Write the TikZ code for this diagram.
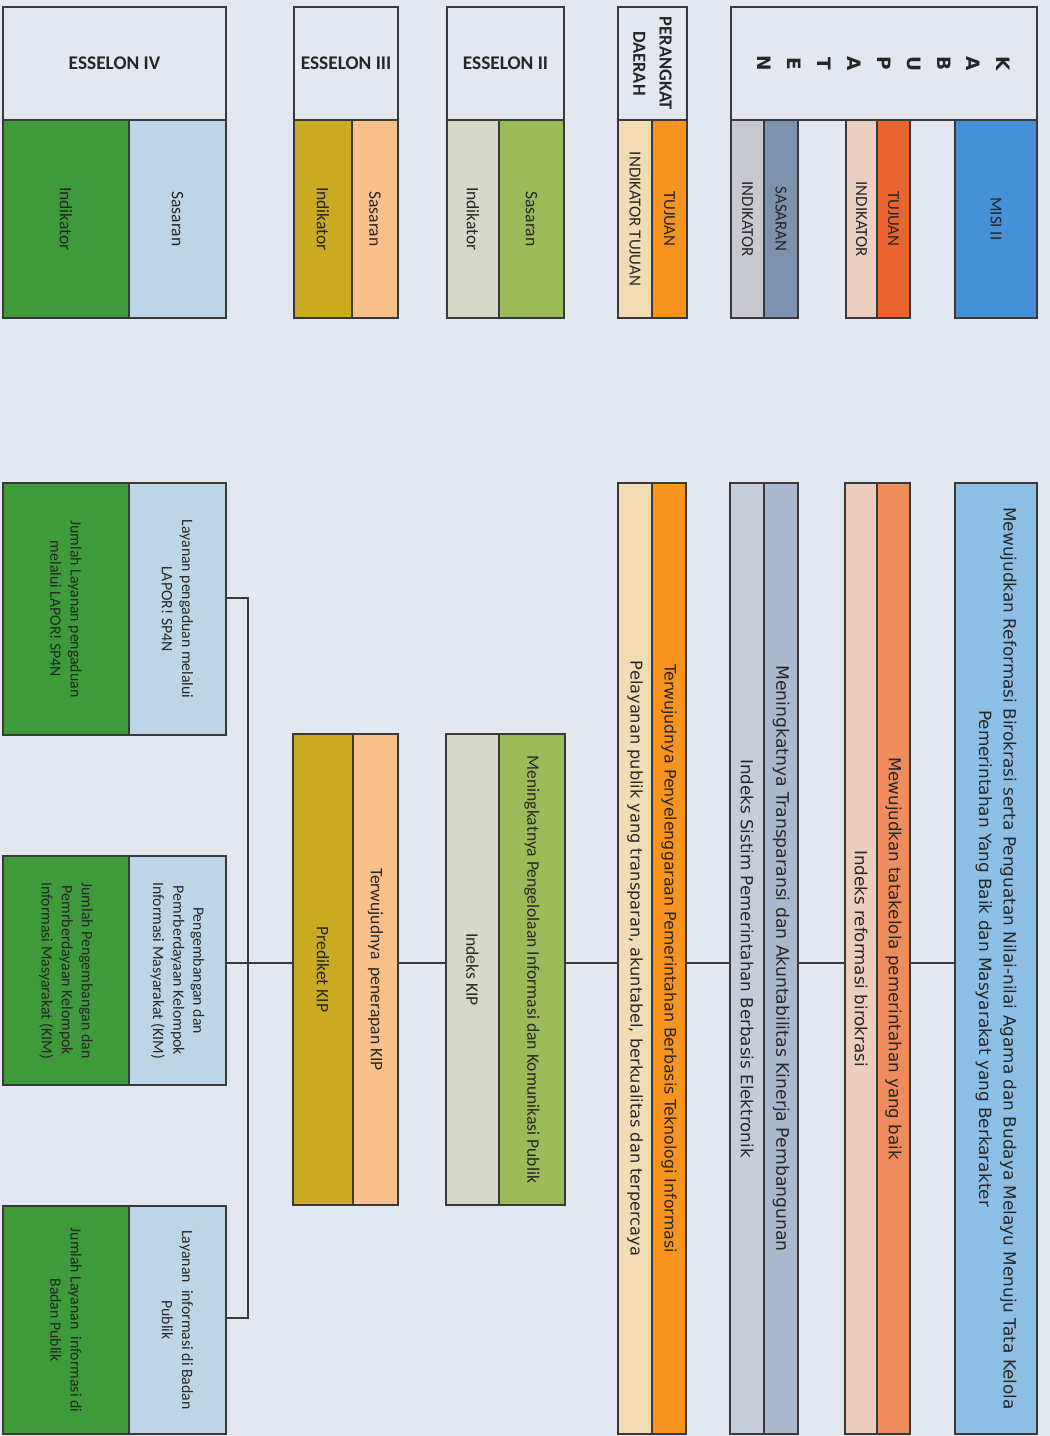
\documentclass[tikz,border=0pt]{standalone}
\usepackage{fontspec}
\setmainfont{Carlito}
\newfontfamily\kabfont{DejaVu Sans}
\usetikzlibrary{positioning}
\definecolor{paper}{HTML}{E3E8F0}
\definecolor{edge}{HTML}{3A3838}
\definecolor{ink}{HTML}{262626}
\definecolor{misihead}{HTML}{4590D6}
\definecolor{misibody}{HTML}{8DBFE5}
\definecolor{tujhead}{HTML}{E8652F}
\definecolor{tujbody}{HTML}{EE8C5E}
\definecolor{indhead}{HTML}{EBCFC0}
\definecolor{indbody}{HTML}{EDCDBC}
\definecolor{sashead}{HTML}{7D92AE}
\definecolor{sasbody}{HTML}{A9B9CF}
\definecolor{indshead}{HTML}{C8C8D0}
\definecolor{indsbody}{HTML}{C4CDD9}
\definecolor{pdtuj}{HTML}{F7931E}
\definecolor{pdind}{HTML}{F3DCB4}
\definecolor{esdua}{HTML}{9BBB5A}
\definecolor{esduaind}{HTML}{D6D8C8}
\definecolor{estiga}{HTML}{F8C08A}
\definecolor{estigaind}{HTML}{C9AA22}
\definecolor{esempat}{HTML}{BCD6E8}
\definecolor{esempatind}{HTML}{3F9A3C}
\tikzset{
        % Boxes
        cell/.style={draw=edge, line width=0.9pt, inner sep=0pt, outer sep=0pt, anchor=north west},
        dims/.style 2 args={minimum width=#1*0.02cm, minimum height=#2*0.02cm},
        % Rotated texts
        vtxt/.style={rotate=-90, align=center, inner sep=0pt, text=ink},
        head_lbl/.style={vtxt, font=\fontsize{9.6}{11}\selectfont},
        sub_lbl/.style={vtxt, font=\fontsize{10}{12}\selectfont},
        kab_txt/.style={vtxt, font=\kabfont\fontsize{9.5}{14}\selectfont},
        es_txt/.style={vtxt, font=\fontsize{9}{11.5}\selectfont},
        es_big/.style={vtxt, font=\fontsize{10}{12}\selectfont},
        es_head/.style={cell, text=ink, font=\bfseries\fontsize{11}{13}\selectfont},
        % Connectors
        wire/.style={draw=edge, line width=1pt}
}
\begin{document}
\begin{tikzpicture}[x=0.02cm, y=-0.02cm]
    \useasboundingbox (0,0) rectangle (1050,1436);
    \fill[paper] (0,0) rectangle (1050,1436);

    % Header row
    \node[cell, dims={306}{113}] (kab_head) at (731,7) {};
    \node[vtxt, font=\kabfont\bfseries\fontsize{10.5}{17}\selectfont] (kab_title) at (kab_head) {K\\A\\B\\U\\P\\A\\T\\E\\N};
    \node[cell, dims={33}{198}, fill=indshead] (kab_ind2_h) at (731,120) {};
    \node[cell, dims={34}{198}, fill=sashead, right=0pt of kab_ind2_h] (kab_sas_h) {};
    \node[cell, dims={31}{198}, fill=indhead] (kab_ind1_h) at (846,120) {};
    \node[cell, dims={33}{198}, fill=tujhead, right=0pt of kab_ind1_h] (kab_tuj_h) {};
    \node[cell, dims={82}{198}, fill=misihead] (misi_h) at (955,120) {};
    \node[head_lbl] (kab_ind2_l) at (kab_ind2_h) {INDIKATOR};
    \node[head_lbl] (kab_sas_l) at (kab_sas_h) {SASARAN};
    \node[head_lbl] (kab_ind1_l) at (kab_ind1_h) {INDIKATOR};
    \node[head_lbl] (kab_tuj_l) at (kab_tuj_h) {TUJUAN};
    \node[head_lbl] (misi_l) at (misi_h) {MISI II};

    \node[cell, dims={69}{113}] (pd_head) at (618,7) {};
    \node[vtxt, font=\bfseries\fontsize{10.5}{15}\selectfont] (pd_title) at (pd_head) {PERANGKAT\\DAERAH};
    \node[cell, dims={34}{198}, fill=pdind] (pd_ind_h) at (618,120) {};
    \node[cell, dims={35}{198}, fill=pdtuj, right=0pt of pd_ind_h] (pd_tuj_h) {};
    \node[head_lbl] (pd_ind_l) at (pd_ind_h) {INDIKATOR TUJUAN};
    \node[head_lbl] (pd_tuj_l) at (pd_tuj_h) {TUJUAN};

    \node[es_head, dims={117}{113}] (es2_head) at (447,7) {ESSELON II};
    \node[cell, dims={52}{198}, fill=esduaind] (es2_ind_h) at (447,120) {};
    \node[cell, dims={65}{198}, fill=esdua, right=0pt of es2_ind_h] (es2_sas_h) {};
    \node[sub_lbl] (es2_ind_l) at (es2_ind_h) {Indikator};
    \node[sub_lbl] (es2_sas_l) at (es2_sas_h) {Sasaran};

    \node[es_head, dims={104}{113}] (es3_head) at (294,7) {ESSELON III};
    \node[cell, dims={58}{198}, fill=estigaind] (es3_ind_h) at (294,120) {};
    \node[cell, dims={46}{198}, fill=estiga, right=0pt of es3_ind_h] (es3_sas_h) {};
    \node[sub_lbl] (es3_ind_l) at (es3_ind_h) {Indikator};
    \node[sub_lbl] (es3_sas_l) at (es3_sas_h) {Sasaran};

    \node[es_head, dims={223}{113}] (es4_head) at (3,7) {ESSELON IV};
    \node[cell, dims={126}{198}, fill=esempatind] (es4_ind_h) at (3,120) {};
    \node[cell, dims={97}{198}, fill=esempat, right=0pt of es4_ind_h] (es4_sas_h) {};
    \node[sub_lbl] (es4_ind_l) at (es4_ind_h) {Indikator};
    \node[sub_lbl] (es4_sas_l) at (es4_sas_h) {Sasaran};

    % Kabupaten and perangkat daerah
    \node[cell, dims={34}{951}, fill=indsbody] (kab_ind2) at (730,483) {};
    \node[cell, dims={34}{951}, fill=sasbody, right=0pt of kab_ind2] (kab_sas) {};
    \node[cell, dims={32}{951}, fill=indbody] (kab_ind1) at (845,483) {};
    \node[cell, dims={33}{951}, fill=tujbody, right=0pt of kab_ind1] (kab_tuj) {};
    \node[cell, dims={82}{951}, fill=misibody] (misi) at (955,483) {};
    \node[kab_txt, font=\kabfont\fontsize{9.6}{14}\selectfont] (misi_t) at (misi) {Mewujudkan Reformasi Birokrasi serta Penguatan Nilai-nilai Agama dan Budaya Melayu Menuju Tata Kelola\\Pemerintahan Yang Baik dan Masyarakat yang Berkarakter};
    \node[kab_txt] (kab_tuj_t) at (kab_tuj) {Mewujudkan tatakelola pemerintahan yang baik};
    \node[kab_txt] (kab_ind1_t) at (kab_ind1) {Indeks reformasi birokrasi};
    \node[kab_txt, font=\kabfont\fontsize{9.8}{14}\selectfont] (kab_sas_t) at (kab_sas) {Meningkatnya Transparansi dan Akuntabilitas Kinerja Pembangunan};
    \node[kab_txt] (kab_ind2_t) at (kab_ind2) {Indeks Sistim Pemerintahan Berbasis Elektronik};

    \node[cell, dims={34}{951}, fill=pdind] (pd_ind) at (618,483) {};
    \node[cell, dims={34}{951}, fill=pdtuj, right=0pt of pd_ind] (pd_tuj) {};
    \node[kab_txt, font=\kabfont\fontsize{9}{12}\selectfont] (pd_tuj_t) at (pd_tuj) {Terwujudnya Penyelenggaraan Pemerintahan Berbasis Teknologi Informasi};
    \node[kab_txt, font=\kabfont\fontsize{9.2}{12}\selectfont] (pd_ind_t) at (pd_ind) {Pelayanan publik yang transparan, akuntabel, berkualitas dan terpercaya};

    % Esselon II and III
    \node[cell, dims={53}{471}, fill=esduaind] (es2_ind) at (446,734) {};
    \node[cell, dims={66}{471}, fill=esdua, right=0pt of es2_ind] (es2_sas) {};
    \node[es_big] (es2_sas_t) at (es2_sas) {Meningkatnya Pengelolaan Informasi dan Komunikasi Publik};
    \node[es_big] (es2_ind_t) at (es2_ind) {Indeks KIP};

    \node[cell, dims={60}{471}, fill=estigaind] (es3_ind) at (293,734) {};
    \node[cell, dims={45}{471}, fill=estiga, right=0pt of es3_ind] (es3_sas) {};
    \node[es_big] (es3_sas_t) at (es3_sas) {Terwujudnya\ \ penerapan KIP};
    \node[es_big] (es3_ind_t) at (es3_ind) {Prediket KIP};

    % Esselon IV
    \node[cell, dims={126}{252}, fill=esempatind] (es4_ind_a) at (3,483) {};
    \node[cell, dims={97}{252}, fill=esempat, right=0pt of es4_ind_a] (es4_sas_a) {};
    \node[cell, dims={126}{229}, fill=esempatind] (es4_ind_b) at (3,856) {};
    \node[cell, dims={97}{229}, fill=esempat, right=0pt of es4_ind_b] (es4_sas_b) {};
    \node[cell, dims={126}{228}, fill=esempatind] (es4_ind_c) at (3,1206) {};
    \node[cell, dims={97}{228}, fill=esempat, right=0pt of es4_ind_c] (es4_sas_c) {};
    \node[es_txt] (es4_sas_a_t) at (es4_sas_a) {Layanan pengaduan melalui\\LAPOR! SP4N};
    \node[es_txt] (es4_ind_a_t) at (es4_ind_a) {Jumlah Layanan pengaduan\\melalui LAPOR! SP4N};
    \node[es_txt] (es4_sas_b_t) at (es4_sas_b) {Pengembangan dan\\Pemrberdayaan Kelompok\\Informasi Masyarakat (KIM)};
    \node[es_txt] (es4_ind_b_t) at (es4_ind_b) {Jumlah Pengembangan dan\\Pemrberdayaan Kelompok\\Informasi Masyarakat (KIM)};
    \node[es_txt] (es4_sas_c_t) at (es4_sas_c) {Layanan\ \ informasi di Badan\\Publik};
    \node[es_txt] (es4_ind_c_t) at (es4_ind_c) {Jumlah Layanan\ \ informasi di\\Badan Publik};

    % Connectors
    \coordinate (spine) at (0,963);
    \coordinate (stub_a) at (248,598);
    \coordinate (stub_c) at (248,1318);
    \draw[wire] (es4_sas_b.east |- spine) -- (es3_ind.west |- spine);
    \draw[wire] (es3_sas.east |- spine) -- (es2_ind.west |- spine);
    \draw[wire] (es2_sas.east |- spine) -- (pd_ind.west |- spine);
    \draw[wire] (pd_tuj.east |- spine) -- (kab_ind2.west |- spine);
    \draw[wire] (kab_sas.east |- spine) -- (kab_ind1.west |- spine);
    \draw[wire] (kab_tuj.east |- spine) -- (misi.west |- spine);
    \draw[wire] (es4_sas_a.east |- stub_a) -- (stub_a) -- (stub_c) -- (es4_sas_c.east |- stub_c);
\end{tikzpicture}
\end{document}
